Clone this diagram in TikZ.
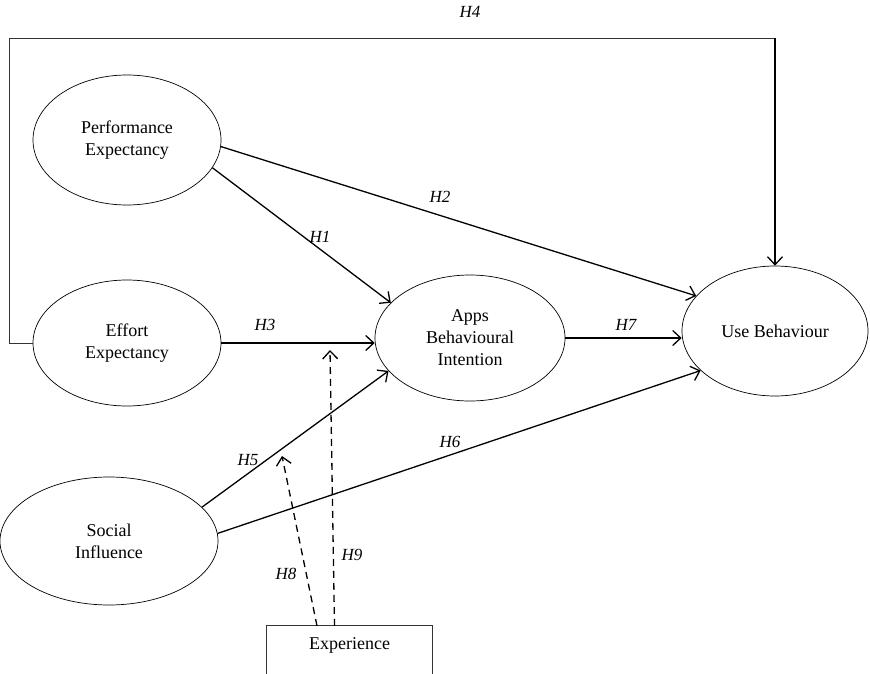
\documentclass[tikz,border=0pt]{standalone}
\usepackage{fontspec}
\setmainfont{Liberation Serif}
\usetikzlibrary{shapes.geometric,arrows.meta}
\begin{document}
\begin{tikzpicture}[x=1pt,y=-1pt,
  latent/.style={ellipse,draw,line width=0.7pt,inner sep=0pt,align=center,font=\fontsize{18}{22}\selectfont},
  arr/.style={line width=1.3pt,-{Straight Barb[length=8pt,width=15pt,line width=1.3pt]}},
  darr/.style={arr,dash pattern=on 7pt off 5pt},
  frame/.style={line width=0.9pt,draw=black!80},
  hyp/.style={font=\fontsize{17}{20}\selectfont\itshape}]
\useasboundingbox (0,0) rectangle (870,674);
% constructs
\node[latent,minimum width=188pt,minimum height=130pt] (pe) at (127,140) {Performance\\Expectancy};
\node[latent,minimum width=188pt,minimum height=126pt] (ee) at (127,343) {Effort\\Expectancy};
\node[latent,minimum width=218pt,minimum height=128pt] (si) at (109,541) {Social\\Influence};
\node[latent,minimum width=190pt,minimum height=126pt] (abi) at (470,338) {Apps\\Behavioural\\Intention};
\node[latent,minimum width=186pt,minimum height=130pt] (ub) at (775,331) {Use Behaviour};
% experience box
\node[minimum width=165pt,minimum height=48pt,inner sep=0pt] (exp) at (349.5,650) {};
\draw[frame] (exp.south west) |- (exp.north east) -- (exp.south east);
\node[font=\fontsize{18}{22}\selectfont] (expt) at ([yshift=5pt]exp.center) {Experience};
% H4 frame
\coordinate (fl) at (9,38);
\draw[frame] (ee.west) -| (fl) -- (fl -| ub.north);
\draw[arr] (fl -| ub.north) -- (ub.north);
\node[hyp] (h4) at (470,12) {H4};
% paths
\draw[arr] (pe.-18) -- (abi.156);
\draw[arr] (pe.-4) -- (ub.156);
\draw[arr] (ee.east) -- (ee.east -| abi.west);
\draw[arr] (abi.east) -- (abi.east -| ub.west);
\draw[arr] (si.20) -- (abi.-158);
\draw[arr] (si.4) -- (ub.-152);
% moderation
\coordinate (h8t) at (282,456);
\coordinate (h9t) at (330,350);
\draw[darr] ([xshift=-32.5pt]exp.north) -- (h8t);
\draw[darr] ([xshift=-15pt]exp.north) -- (h9t);
% labels
\node[hyp] (l1) at (320,237) {H1};
\node[hyp] (l2) at (440,197) {H2};
\node[hyp] (l3) at (265,325) {H3};
\node[hyp] (l5) at (248,460) {H5};
\node[hyp] (l6) at (450,442) {H6};
\node[hyp] (l7) at (626,325) {H7};
\node[hyp] (l8) at (286,574) {H8};
\node[hyp] (l9) at (352,555) {H9};
\end{tikzpicture}
\end{document}
